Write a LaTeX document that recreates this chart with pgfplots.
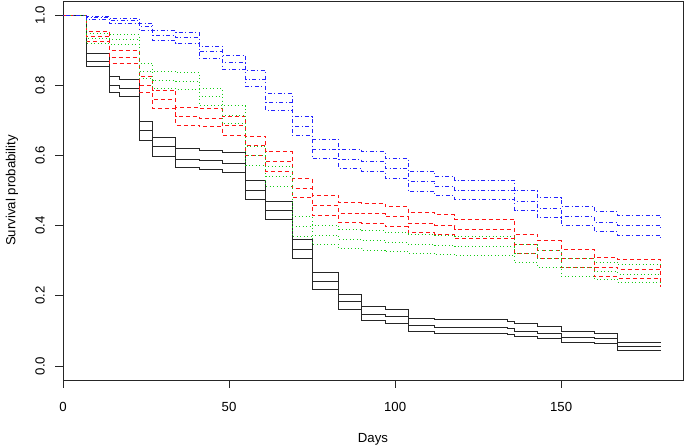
\documentclass[border=0pt]{standalone}
\usepackage{fontspec}
\setmainfont{Liberation Sans}
\usepackage{pgfplots}
\usepackage{pgfplotstable}
\pgfplotsset{compat=1.18}
\definecolor{rred}{RGB}{255,20,20}
\definecolor{rgreen}{RGB}{20,205,20}
\definecolor{rblue}{RGB}{35,35,255}

\pgfplotstableread{
t up est lo
0 1 1 1
7 0.890 0.869 0.852
14 0.824 0.800 0.778
17 0.816 0.790 0.769
23 0.697 0.670 0.643
27 0.651 0.624 0.596
34 0.620 0.589 0.565
41 0.615 0.586 0.560
48 0.607 0.577 0.550
55 0.529 0.501 0.475
61 0.470 0.442 0.416
69 0.359 0.332 0.306
75 0.267 0.242 0.217
83 0.205 0.183 0.161
90 0.169 0.147 0.129
97 0.161 0.140 0.122
104 0.136 0.114 0.098
112 0.133 0.110 0.093
134 0.128 0.106 0.089
136 0.120 0.098 0.083
143 0.112 0.093 0.079
150 0.098 0.082 0.067
160 0.093 0.079 0.063
167 0.067 0.055 0.043
180 0.067 0.055 0.043
}\blackdata

\pgfplotstableread{
t up est lo
0 1 1 1
7 0.954 0.940 0.926
14 0.900 0.879 0.862
23 0.824 0.800 0.778
27 0.786 0.760 0.733
34 0.736 0.712 0.686
41 0.733 0.706 0.681
48 0.712 0.684 0.658
55 0.655 0.627 0.600
61 0.610 0.582 0.555
69 0.534 0.506 0.479
75 0.487 0.456 0.430
83 0.465 0.435 0.408
90 0.463 0.434 0.406
97 0.454 0.425 0.397
104 0.437 0.406 0.379
112 0.431 0.401 0.374
118 0.418 0.390 0.363
136 0.375 0.345 0.320
143 0.357 0.330 0.305
150 0.333 0.307 0.280
160 0.308 0.281 0.254
167 0.302 0.275 0.250
180 0.277 0.250 0.226
}\reddata

\pgfplotstableread{
t up est lo
0 1 1 1
7 0.946 0.933 0.920
14 0.944 0.931 0.917
23 0.862 0.840 0.818
27 0.840 0.814 0.790
34 0.836 0.812 0.788
41 0.790 0.767 0.743
48 0.741 0.715 0.691
55 0.626 0.599 0.572
61 0.567 0.539 0.512
69 0.425 0.396 0.369
75 0.401 0.373 0.347
83 0.389 0.361 0.335
90 0.385 0.358 0.330
97 0.380 0.351 0.325
104 0.376 0.347 0.321
112 0.373 0.344 0.318
118 0.370 0.340 0.316
136 0.346 0.321 0.294
143 0.330 0.305 0.281
150 0.305 0.281 0.256
160 0.295 0.268 0.247
167 0.288 0.262 0.237
180 0.288 0.262 0.237
}\greendata

\pgfplotstableread{
t up est lo
0 1 1 1
7 0.997 0.993 0.988
14 0.991 0.984 0.976
23 0.977 0.967 0.956
27 0.955 0.942 0.928
34 0.949 0.935 0.920
41 0.911 0.895 0.876
48 0.885 0.864 0.845
55 0.841 0.817 0.796
61 0.776 0.752 0.729
69 0.710 0.683 0.656
75 0.646 0.618 0.591
83 0.618 0.588 0.563
90 0.610 0.582 0.555
97 0.591 0.563 0.534
104 0.555 0.527 0.498
112 0.540 0.512 0.485
118 0.529 0.501 0.475
136 0.499 0.470 0.442
143 0.479 0.449 0.422
150 0.455 0.425 0.399
160 0.439 0.409 0.382
167 0.428 0.399 0.371
180 0.420 0.391 0.364
}\bluedata

\begin{document}
\fontsize{13.2bp}{15.8bp}\selectfont
\begin{tikzpicture}
\useasboundingbox (-63bp,-67bp) rectangle (622bp,380bp);
\begin{axis}[
  at={(0,0)}, anchor=south west,
  scale only axis, width=620bp, height=379bp,
  xmin=0, xmax=186.7, ymin=-0.04, ymax=1.04,
  axis line style={black!85, line width=0.9bp},
  tick align=outside, major tick length=7.5bp,
  tick style={black!85, line width=0.9bp},
  xtick pos=lower, ytick pos=left,
  xtick={0,50,100,150}, xticklabels={0,50,100,150},
  ytick={0,0.2,0.4,0.6,0.8,1.0},
  yticklabels={0.0,0.2,0.4,0.6,0.8,1.0},
  xticklabel style={anchor=center, yshift=-19bp},
  yticklabel style={xshift=-15.5bp, rotate=90, anchor=center},
  xlabel={Days}, ylabel={Survival probability},
  xlabel style={at={(axis description cs:0.5,-0.1557)}, anchor=center},
  ylabel style={at={(axis description cs:-0.0823,0.5)}, anchor=center},
  every axis plot/.append style={const plot, line width=1bp, mark=none},
  clip=true,
]
\addplot[black!85] table[x=t,y=up] {\blackdata};
\addplot[black!85] table[x=t,y=est] {\blackdata};
\addplot[black!85] table[x=t,y=lo] {\blackdata};
\addplot[rred, dash pattern=on 4bp off 3bp] table[x=t,y=up] {\reddata};
\addplot[rred, dash pattern=on 4bp off 3bp] table[x=t,y=est] {\reddata};
\addplot[rred, dash pattern=on 4bp off 3bp] table[x=t,y=lo] {\reddata};
\addplot[rgreen, dash pattern=on 1bp off 2.5bp] table[x=t,y=up] {\greendata};
\addplot[rgreen, dash pattern=on 1bp off 2.5bp] table[x=t,y=est] {\greendata};
\addplot[rgreen, dash pattern=on 1bp off 2.5bp] table[x=t,y=lo] {\greendata};
\addplot[rblue, dash pattern=on 1bp off 2.5bp on 4bp off 2.5bp] table[x=t,y=up] {\bluedata};
\addplot[rblue, dash pattern=on 1bp off 2.5bp on 4bp off 2.5bp] table[x=t,y=est] {\bluedata};
\addplot[rblue, dash pattern=on 1bp off 2.5bp on 4bp off 2.5bp] table[x=t,y=lo] {\bluedata};
\end{axis}
\end{tikzpicture}
\end{document}
